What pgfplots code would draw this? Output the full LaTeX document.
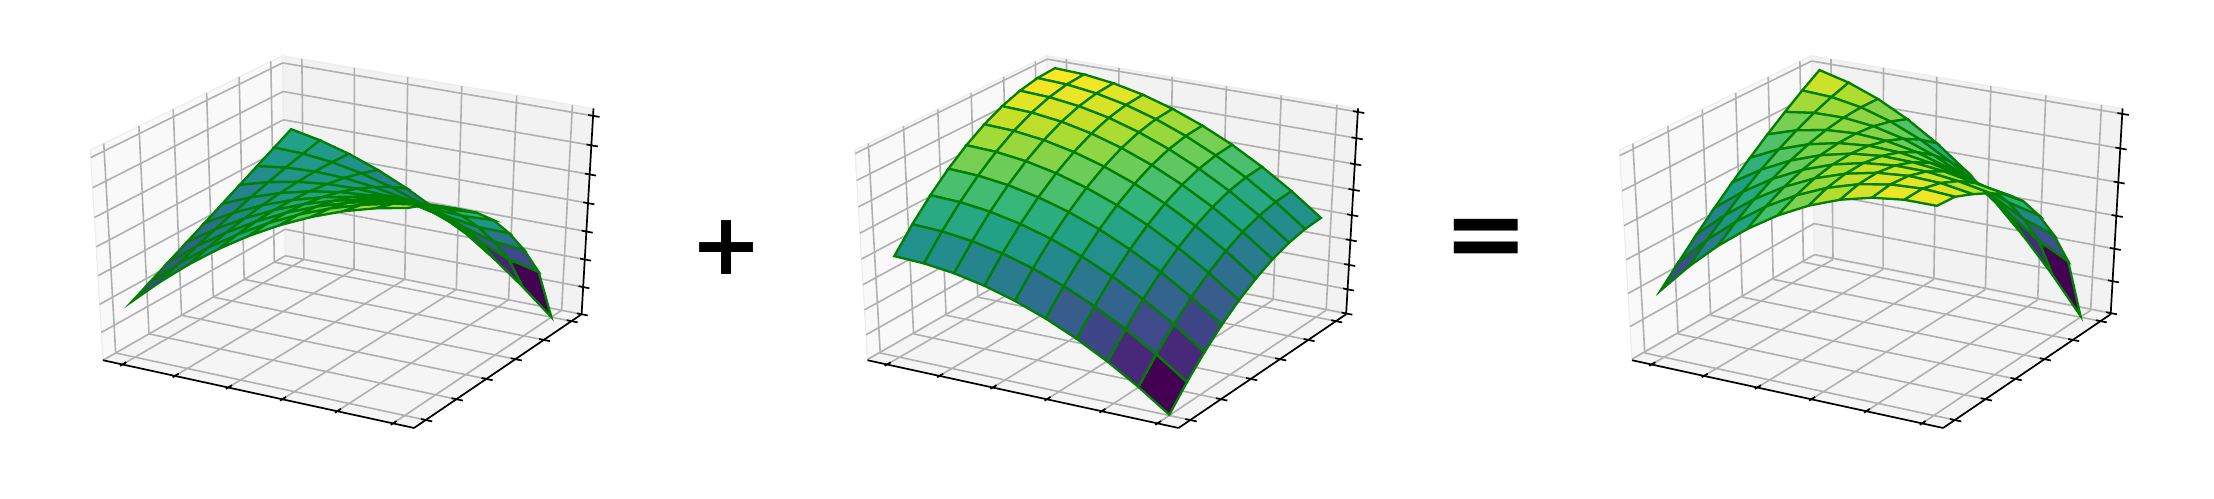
\documentclass[border=0pt]{standalone}
\usepackage{pgfplots}
\usepackage{pgfplotstable}
\pgfplotsset{compat=1.18}
\usepackage{fontspec}
\setmainfont{DejaVu Sans}
\pgfmathdeclarefunction{wq}{3}{\pgfmathparse{10-(0.433013*(#1-0.5)-0.75*(#2-0.5)+0.5*(#3-0.5))}}
\pgfmathdeclarefunction{pxx}{3}{\pgfmathparse{3590*(0.866025*(#1-0.5)+0.5*(#2-0.5))/wq(#1,#2,#3)}}
\pgfmathdeclarefunction{pyy}{3}{\pgfmathparse{235.5-2400*(-0.25*(#1-0.5)+0.433013*(#2-0.5)+0.866025*(#3-0.5))/wq(#1,#2,#3)}}
\newcommand{\seg}[8]{%
 \addplot[#1] table[row sep=\\,x expr={#2+pxx(\thisrow{a},\thisrow{b},\thisrow{c})},y expr={pyy(\thisrow{a},\thisrow{b},\thisrow{c})}]{a b c\\ #3 #4 #5\\ #6 #7 #8\\};}
\newcommand{\frameP}[2]{%
 \addplot[fill=black!2.5,draw=black!7,line width=0.6pt] table[row sep=\\,x expr={#1+pxx(\thisrow{a},\thisrow{b},\thisrow{c})},y expr={pyy(\thisrow{a},\thisrow{b},\thisrow{c})}]{a b c\\ 0 0 0\\ 0 1 0\\ 0 1 1\\ 0 0 1\\}--cycle;
 \addplot[fill=black!5,draw=black!7,line width=0.6pt] table[row sep=\\,x expr={#1+pxx(\thisrow{a},\thisrow{b},\thisrow{c})},y expr={pyy(\thisrow{a},\thisrow{b},\thisrow{c})}]{a b c\\ 0 1 0\\ 1 1 0\\ 1 1 1\\ 0 1 1\\}--cycle;
 \addplot[fill=black!3.75,draw=black!7,line width=0.6pt] table[row sep=\\,x expr={#1+pxx(\thisrow{a},\thisrow{b},\thisrow{c})},y expr={pyy(\thisrow{a},\thisrow{b},\thisrow{c})}]{a b c\\ 0 0 0\\ 1 0 0\\ 1 1 0\\ 0 1 0\\}--cycle;
 \pgfplotsforeachungrouped \t in {0.065,0.239,0.413,0.587,0.761,0.935}{
  \seg{gridc}{#1}{\t}{0}{0}{\t}{1}{0}
  \seg{gridc}{#1}{\t}{1}{0}{\t}{1}{1}
  \seg{gridc}{#1}{0}{\t}{0}{1}{\t}{0}
  \seg{gridc}{#1}{0}{\t}{0}{0}{\t}{1}
  \seg{ax}{#1}{\t}{-0.012}{0}{\t}{0.02}{0}
  \seg{ax}{#1}{1.02}{\t}{0}{0.985}{\t}{0}
 }
 \pgfplotsforeachungrouped \t in {#2}{
  \seg{gridc}{#1}{0}{0}{\t}{0}{1}{\t}
  \seg{gridc}{#1}{0}{1}{\t}{1}{1}{\t}
  \seg{ax}{#1}{1.02}{1}{\t}{0.985}{1}{\t}
 }
 \seg{ax}{#1}{0}{0}{0}{1}{0}{0}
 \seg{ax}{#1}{1}{0}{0}{1}{1}{0}
 \seg{ax}{#1}{1}{1}{0}{1}{1}{1}
}
% cx, z-to-box expression, data column, colour limits
\newcommand{\surfP}[5]{%
 \addplot3[sf] table[
  x expr={#1+pxx(0.065+0.87*\thisrow{x},0.065+0.87*(\thisrow{y}+1),#2)},
  y expr={pyy(0.065+0.87*\thisrow{x},0.065+0.87*(\thisrow{y}+1),#2)},
  z expr={10-wq(0.065+0.87*\thisrow{x},0.065+0.87*(\thisrow{y}+1),#2)},
  meta expr={(\thisrow{#3}-(#4))/((#5)-(#4))}]{\gridT};}
\pgfplotsset{gridc/.style={color=black!31,line width=0.8pt},ax/.style={color=black,line width=0.85pt},
 sf/.style={surf,shader=faceted,faceted color=edgeg,line width=1.15pt,z buffer=sort,mesh/rows=10,mesh/cols=10,point meta=explicit},
 colormap={vx}{rgb255=(68,1,84) rgb255=(68,1,84) rgb255=(68,1,84) rgb255=(68,1,84) rgb255=(72,40,120) rgb255=(62,74,137) rgb255=(49,104,142) rgb255=(38,130,142) rgb255=(31,158,137) rgb255=(53,183,121) rgb255=(109,205,89) rgb255=(180,222,44) rgb255=(253,231,37) rgb255=(253,231,37) rgb255=(253,231,37) rgb255=(253,231,37)}}
\definecolor{edgeg}{rgb}{0,0.5,0}
\pgfplotstableread{
x y z1 z2 z3
0 -1 -5 -1 -6
0.1111 -1 -4.099 -1.012 -5.111
0.2222 -1 -3.284 -1.049 -4.333
0.3333 -1 -2.556 -1.111 -3.667
0.4444 -1 -1.914 -1.198 -3.112
0.5556 -1 -1.358 -1.309 -2.667
0.6667 -1 -0.889 -1.444 -2.333
0.7778 -1 -0.506 -1.605 -2.111
0.8889 -1 -0.210 -1.790 -2.000
1 -1 0 -2 -2
0 -0.8889 -4.667 -0.790 -5.457
0.1111 -0.8889 -3.832 -0.802 -4.634
0.2222 -0.8889 -3.083 -0.840 -3.923
0.3333 -0.8889 -2.421 -0.901 -3.322
0.4444 -0.8889 -1.846 -0.988 -2.834
0.5556 -0.8889 -1.357 -1.099 -2.456
0.6667 -0.8889 -0.954 -1.235 -2.189
0.7778 -0.8889 -0.637 -1.395 -2.032
0.8889 -0.8889 -0.403 -1.580 -1.983
1 -0.8889 -0.250 -1.790 -2.040
0 -0.7778 -4.333 -0.605 -4.938
0.1111 -0.7778 -3.579 -0.617 -4.196
0.2222 -0.7778 -2.911 -0.654 -3.565
0.3333 -0.7778 -2.330 -0.716 -3.046
0.4444 -0.7778 -1.835 -0.802 -2.637
0.5556 -0.7778 -1.427 -0.914 -2.341
0.6667 -0.7778 -1.105 -1.049 -2.154
0.7778 -0.7778 -0.868 -1.210 -2.078
0.8889 -0.7778 -0.718 -1.395 -2.113
1 -0.7778 -0.650 -1.605 -2.255
0 -0.6667 -4 -0.444 -4.444
0.1111 -0.6667 -3.341 -0.457 -3.798
0.2222 -0.6667 -2.768 -0.494 -3.262
0.3333 -0.6667 -2.282 -0.556 -2.838
0.4444 -0.6667 -1.882 -0.642 -2.524
0.5556 -0.6667 -1.568 -0.753 -2.321
0.6667 -0.6667 -1.341 -0.889 -2.230
0.7778 -0.6667 -1.189 -1.049 -2.238
0.8889 -0.6667 -1.108 -1.235 -2.343
1 -0.6667 -1.070 -1.444 -2.514
0 -0.5556 -3.667 -0.309 -3.976
0.1111 -0.5556 -3.117 -0.321 -3.438
0.2222 -0.5556 -2.653 -0.358 -3.011
0.3333 -0.5556 -2.276 -0.420 -2.696
0.4444 -0.5556 -1.985 -0.506 -2.491
0.5556 -0.5556 -1.781 -0.617 -2.398
0.6667 -0.5556 -1.663 -0.753 -2.416
0.7778 -0.5556 -1.600 -0.914 -2.514
0.8889 -0.5556 -1.582 -1.099 -2.681
1 -0.5556 -1.530 -1.309 -2.839
0 -0.4444 -3.333 -0.198 -3.531
0.1111 -0.4444 -2.907 -0.210 -3.117
0.2222 -0.4444 -2.567 -0.247 -2.814
0.3333 -0.4444 -2.313 -0.309 -2.622
0.4444 -0.4444 -2.145 -0.395 -2.540
0.5556 -0.4444 -2.065 -0.506 -2.571
0.6667 -0.4444 -2.070 -0.642 -2.712
0.7778 -0.4444 -2.112 -0.802 -2.914
0.8889 -0.4444 -2.170 -0.988 -3.158
1 -0.4444 -2.120 -1.198 -3.318
0 -0.3333 -3 -0.111 -3.111
0.1111 -0.3333 -2.711 -0.123 -2.834
0.2222 -0.3333 -2.509 -0.160 -2.669
0.3333 -0.3333 -2.393 -0.222 -2.615
0.4444 -0.3333 -2.363 -0.309 -2.672
0.5556 -0.3333 -2.420 -0.420 -2.840
0.6667 -0.3333 -2.563 -0.556 -3.119
0.7778 -0.3333 -2.731 -0.716 -3.447
0.8889 -0.3333 -2.899 -0.901 -3.800
1 -0.3333 -2.911 -1.111 -4.022
0 -0.2222 -2.667 -0.049 -2.716
0.1111 -0.2222 -2.530 -0.062 -2.592
0.2222 -0.2222 -2.479 -0.099 -2.578
0.3333 -0.2222 -2.515 -0.160 -2.675
0.4444 -0.2222 -2.638 -0.247 -2.885
0.5556 -0.2222 -2.846 -0.358 -3.204
0.6667 -0.2222 -3.142 -0.494 -3.636
0.7778 -0.2222 -3.451 -0.654 -4.105
0.8889 -0.2222 -3.747 -0.840 -4.587
1 -0.2222 -3.850 -1.049 -4.899
0 -0.1111 -2.333 -0.012 -2.345
0.1111 -0.1111 -2.363 -0.025 -2.388
0.2222 -0.1111 -2.478 -0.062 -2.540
0.3333 -0.1111 -2.681 -0.123 -2.804
0.4444 -0.1111 -2.969 -0.210 -3.179
0.5556 -0.1111 -3.344 -0.321 -3.665
0.6667 -0.1111 -3.806 -0.457 -4.263
0.7778 -0.1111 -4.278 -0.617 -4.895
0.8889 -0.1111 -4.733 -0.802 -5.535
1 -0.1111 -4.980 -1.012 -5.992
0 0 -2 0 -2
0.1111 0 -2.210 -0.012 -2.222
0.2222 0 -2.506 -0.049 -2.555
0.3333 0 -2.889 -0.111 -3.000
0.4444 0 -3.358 -0.198 -3.556
0.5556 0 -3.914 -0.309 -4.223
0.6667 0 -4.556 -0.444 -5.000
0.7778 0 -5.284 -0.605 -5.889
0.8889 0 -6.099 -0.790 -6.889
1 0 -7 -1 -8
}\gridT
\begin{document}
\begin{tikzpicture}
\path[use as bounding box] (0,0) rectangle (1107pt,249pt);
\begin{axis}[at={(0,0)},anchor=south west,scale only axis,width=1107pt,height=249pt,xmin=0,xmax=2214,ymin=0,ymax=498,y dir=reverse,hide axis,view={0}{90},clip=true,point meta min=-0.33333,point meta max=1.33333]
\frameP{346}{0,0.138,0.276,0.414,0.552,0.69,0.828,0.966}
\frameP{1110.5}{0.004,0.1265,0.249,0.3715,0.494,0.6165,0.739,0.8615,0.984}
\frameP{1875}{0.006,0.1675,0.329,0.4905,0.652,0.8135,0.975}
\surfP{346}{0.966+0.138*\thisrow{z1}}{z1}{-5.7}{0.4}
\surfP{1110.5}{0.984+0.49*\thisrow{z2}}{z2}{-1.79}{-0.012}
\surfP{1875}{0.975+0.1615*(2+\thisrow{z3})}{z3}{-6.35}{-1.9}
\node[font=\bfseries\fontsize{43pt}{43pt}\selectfont] at (axis cs:726,248) {+};
\node[font=\bfseries\fontsize{51pt}{51pt}\selectfont] at (axis cs:1486.5,243.5) {=};
\end{axis}
\end{tikzpicture}
\end{document}
